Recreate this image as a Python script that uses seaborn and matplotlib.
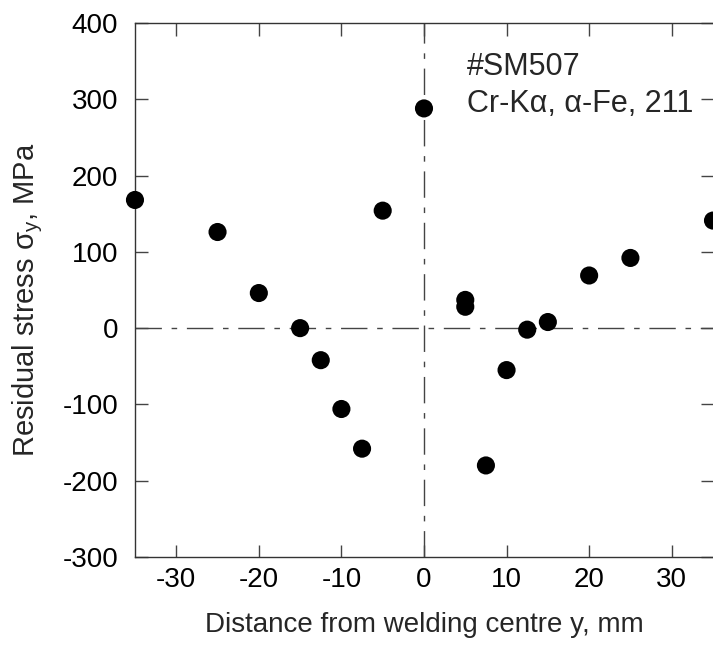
import matplotlib
matplotlib.use("Agg")
import matplotlib.pyplot as plt
import seaborn as sns
import pandas as pd

# Residual stress measurements across the weld (Cr-Kα, α-Fe 211)
distance_mm = [-35, -25, -20, -15, -12.5, -10, -7.5, -5, 0, 5, 5, 7.5, 10, 12.5, 15, 20, 25, 35]
stress_mpa = [168, 126, 46, 0, -42, -106, -158, 154, 288, 37, 28, -180, -55, -2, 8, 69, 92, 141]

x_ticks = [-30, -20, -10, 0, 10, 20, 30]
y_ticks = [-300, -200, -100, 0, 100, 200, 300, 400]

sample_label = "#SM507"
method_label = "Cr-Kα, α-Fe, 211"

df = pd.DataFrame({"distance": distance_mm, "stress": stress_mpa})

sns.set_style("ticks")
plt.rcParams["font.family"] = ["Liberation Sans", "DejaVu Sans"]
plt.rcParams["mathtext.fontset"] = "custom"
plt.rcParams["mathtext.rm"] = "Liberation Sans"
plt.rcParams["mathtext.it"] = "Liberation Sans"

fig = plt.figure(figsize=(7.13, 6.51), dpi=100)
ax = fig.add_axes([0.1893, 0.1444, 0.8107, 0.8203])

# Dash-dot reference lines through the origin
dash = (0, (19, 7, 4, 7))
ax.axhline(0, color="#444444", lw=1.0, linestyle=dash, zorder=1)
ax.axvline(0, color="#444444", lw=1.0, linestyle=dash, zorder=1)

sns.scatterplot(data=df, x="distance", y="stress", ax=ax, color="black",
                s=170, edgecolor="none", linewidth=0, zorder=3, clip_on=False,
                legend=False)

ax.set_xlim(-35, 35)
ax.set_ylim(-300, 400)
ax.set_xticks(x_ticks)
ax.set_yticks(y_ticks)
ax.set_xticklabels([str(v) for v in x_ticks])
ax.set_yticklabels([str(v) for v in y_ticks])

ax.tick_params(direction="in", length=9, width=1.0, color="#444444",
               top=True, right=True, labelsize=20, labelcolor="black")
ax.tick_params(axis="x", pad=7)
ax.tick_params(axis="y", pad=12)

for side in ["left", "top", "bottom"]:
    ax.spines[side].set_visible(True)
    ax.spines[side].set_linewidth(1.0)
    ax.spines[side].set_color("#333333")
ax.spines["right"].set_visible(False)

ax.set_xlabel("Distance from welding centre y, mm", fontsize=20, labelpad=14)
ax.set_ylabel(r"Residual stress σ$_\mathregular{y}$, MPa", fontsize=21)
ax.yaxis.set_label_coords(-0.155, 0.481)

ax.text(5.2, 362, sample_label, fontsize=22, va="top", ha="left")
ax.text(5.2, 313, method_label, fontsize=22, va="top", ha="left")

fig.savefig("out.png", dpi=100)
